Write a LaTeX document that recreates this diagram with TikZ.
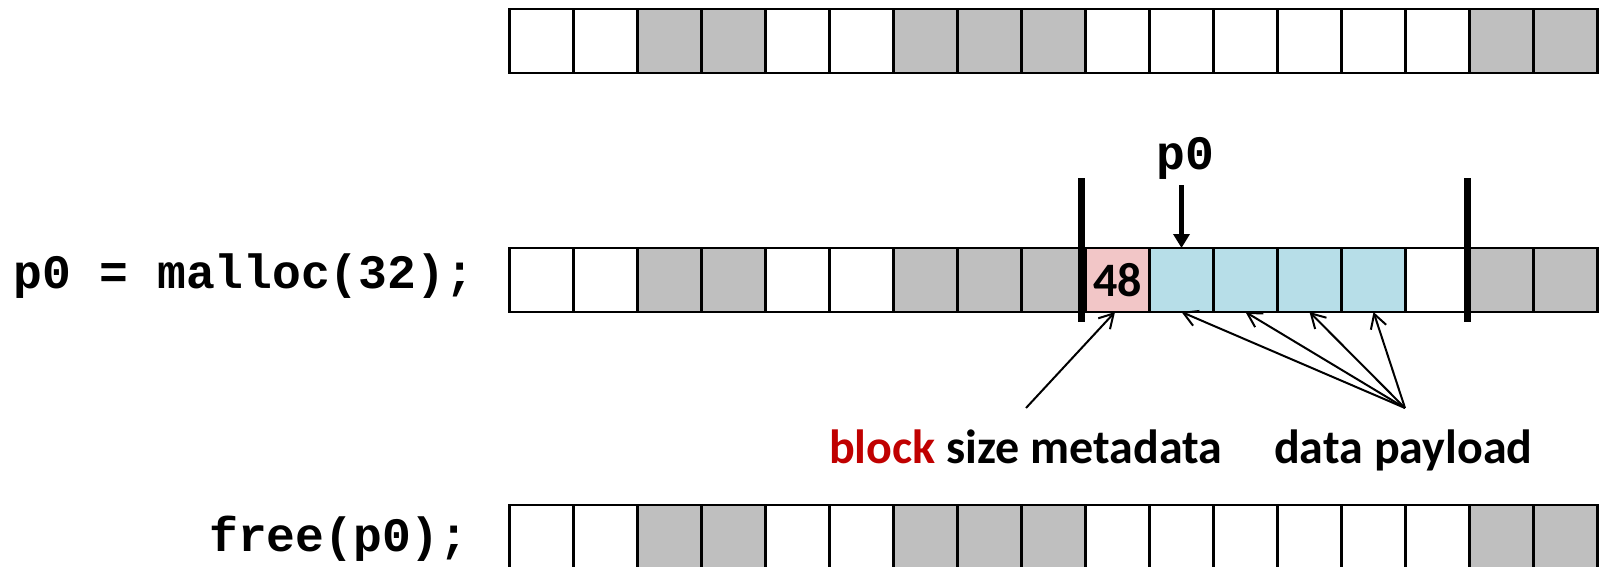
\documentclass[tikz,border=0pt]{standalone}
\usepackage{fontspec}
\usetikzlibrary{arrows.meta}
\newfontfamily\codefont{Liberation Mono}
\newfontfamily\labelfont{Carlito}
\definecolor{cellgray}{RGB}{191,191,191}
\definecolor{payload}{RGB}{183,222,232}
\definecolor{meta}{RGB}{242,198,199}
\definecolor{blockred}{RGB}{192,0,0}
\begin{document}
\begin{tikzpicture}[x=1pt,y=-1pt,
  cellbox/.style={draw=black, line width=2.2pt, minimum width=64pt, minimum height=64pt, inner sep=0pt, outer sep=0pt},
  code/.style={font=\codefont\bfseries\fontsize{48}{48}\selectfont, inner sep=0pt},
  lbl/.style={font=\labelfont\bfseries\fontsize{48}{48}\selectfont, inner sep=0pt},
  barline/.style={line width=7pt},
  ptr/.style={line width=2pt, -{Straight Barb[length=14pt,width=16pt]}},
  p0arrow/.style={line width=4.5pt, -{Triangle[length=14pt,width=16pt]}}]
\useasboundingbox (0,0) rectangle (1604,567);
\clip (0,0) rectangle (1604,567);
% top row
\foreach \c [count=\i from 0] in {white,white,cellgray,cellgray,white,white,cellgray,cellgray,cellgray,white,white,white,white,white,white,cellgray,cellgray} {
  \node[cellbox, fill=\c] (t\i) at (541.5+64*\i, 41) {};
}
% middle row
\foreach \c [count=\i from 0] in {white,white,cellgray,cellgray,white,white,cellgray,cellgray,cellgray,meta,payload,payload,payload,payload,white,cellgray,cellgray} {
  \node[cellbox, fill=\c] (m\i) at (541.5+64*\i, 280) {};
}
% bottom row
\foreach \c [count=\i from 0] in {white,white,cellgray,cellgray,white,white,cellgray,cellgray,cellgray,white,white,white,white,white,white,cellgray,cellgray} {
  \node[cellbox, fill=\c] (b\i) at (541.5+64*\i, 537) {};
}
\node[lbl] (size48) at (m9.center) {48};
% block boundaries
\coordinate (lbtop) at (1081.5,178);
\coordinate (lbbot) at (1081.5,322);
\coordinate (rbtop) at (1467,178);
\coordinate (rbbot) at (1467,322);
\draw[barline] (lbtop) -- (lbbot);
\draw[barline] (rbtop) -- (rbbot);
% p0 pointer
\node[code, anchor=base] (p0lbl) at (1185,170) {p0};
\draw[p0arrow] ([yshift=-5pt]m10.north |- p0lbl.south) -- (m10.north);
% labels
\node[code, anchor=base west] (mallocline) at (13,288) {p0 = malloc(32);};
\node[code, anchor=base west] (freeline) at (209,551) {free(p0);};
\node[lbl, anchor=base west] (metatext) at (829,463) {\textcolor{blockred}{block} size metadata};
\node[lbl, anchor=base west] (paytext) at (1274,463) {data payload};
% arrows to block parts
\coordinate (metaorig) at (1026,408);
\coordinate (payorig) at (1405,408);
\draw[ptr] (metaorig) -- ([xshift=-2.5pt]m9.south);
\foreach \k in {10,...,13} {
  \draw[ptr] (payorig) -- (m\k.south);
}
\end{tikzpicture}
\end{document}
